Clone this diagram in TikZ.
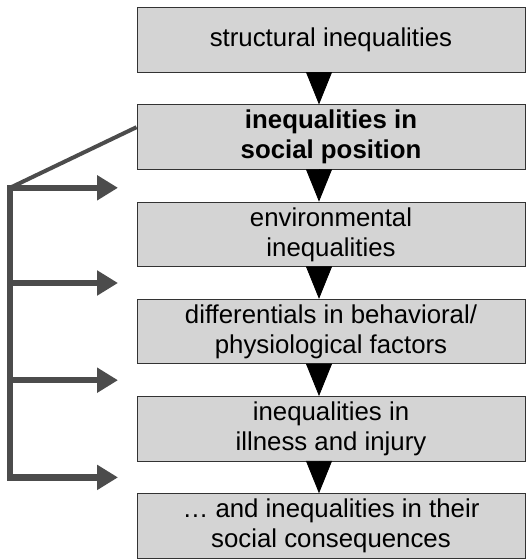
\documentclass[tikz,border=0pt]{standalone}
\usepackage{fontspec}
\setmainfont{Liberation Sans}
\usepackage{tikz}
\usetikzlibrary{calc,backgrounds,arrows.meta}
\definecolor{boxgray}{gray}{0.83}
\definecolor{linkgray}{gray}{0.30}
\newcommand{\flowfont}[0]{\fontsize{12.9bp}{15bp}\selectfont}
\tikzstyle{stage}=[
  draw=black!80,fill=boxgray,line width=0.5bp,minimum width=194bp,
  minimum height=32.25bp,inner sep=0pt,align=center,font=\flowfont
]
\tikzstyle{stepdown}=[
  -{Triangle[width=13bp,length=16.2bp]},line width=0.4bp,black
]
\tikzstyle{spoke}=[
    line width=2bp,linkgray
]
\tikzstyle{spine}=[
    line width=3.2bp,linkgray,line cap=rect
]
\tikzstyle{branch}=[
    -{Triangle[width=12bp,length=10.5bp]},line width=3.2bp,linkgray
]

\begin{document}
\begin{tikzpicture}

    \useasboundingbox (0bp,0bp) rectangle (263.5bp,-279.5bp);
    \def\lvl{48.6bp}
    \node (b1) at (165.5bp,-20bp) [stage] {structural inequalities};

    \node (b2) at ($(b1) + (0, -\lvl)$) [stage, font=\flowfont\bfseries] {inequalities in\\social position};
    \node (b3) at ($(b2) + (0, -\lvl)$) [stage] {environmental\\inequalities};
    \node (b4) at ($(b3) + (0, -\lvl)$) [stage] {differentials in behavioral/\\physiological factors};
    \node (b5) at ($(b4) + (0, -\lvl)$) [stage] {inequalities in\\illness and injury};
    \node (b6) at ($(b5) + (0, -\lvl)$) [stage] {… and inequalities in their\\social consequences};

    \draw [stepdown] ($(b1.south) + (-6bp, 0)$) -- ($(b2.north) + (-6bp, 0)$);
    \draw [stepdown] ($(b2.south) + (-6bp, 0)$) -- ($(b3.north) + (-6bp, 0)$);
    \draw [stepdown] ($(b3.south) + (-6bp, 0)$) -- ($(b4.north) + (-6bp, 0)$);
    \draw [stepdown] ($(b4.south) + (-6bp, 0)$) -- ($(b5.north) + (-6bp, 0)$);
    \draw [stepdown] ($(b5.south) + (-6bp, 0)$) -- ($(b6.north) + (-6bp, 0)$);

    \coordinate (rail) at (5bp, 0bp);
    \coordinate (tipx) at (59bp, 0bp);
    \coordinate (g1) at ($(b2.south)!0.5!(b3.north) + (0, -1bp)$);
    \coordinate (g2) at ($(b3.south)!0.5!(b4.north)$);
    \coordinate (g3) at ($(b4.south)!0.5!(b5.north)$);
    \coordinate (g4) at ($(b5.south)!0.5!(b6.north)$);
    \coordinate (hub) at (rail |- g1);
    \coordinate (foot) at (rail |- g4);

    \begin{scope}[on background layer]
      \draw [spoke] ($(b2.west) + (0, 5bp)$) -- (hub);
      \draw [spine] (hub) -- (foot);

      \draw [branch] (hub) -- (tipx |- g1);
      \draw [branch] (rail |- g2) -- (tipx |- g2);
      \draw [branch] (rail |- g3) -- (tipx |- g3);
      \draw [branch] (foot) -- (tipx |- g4);
    \end{scope}

  \end{tikzpicture}
\end{document}
